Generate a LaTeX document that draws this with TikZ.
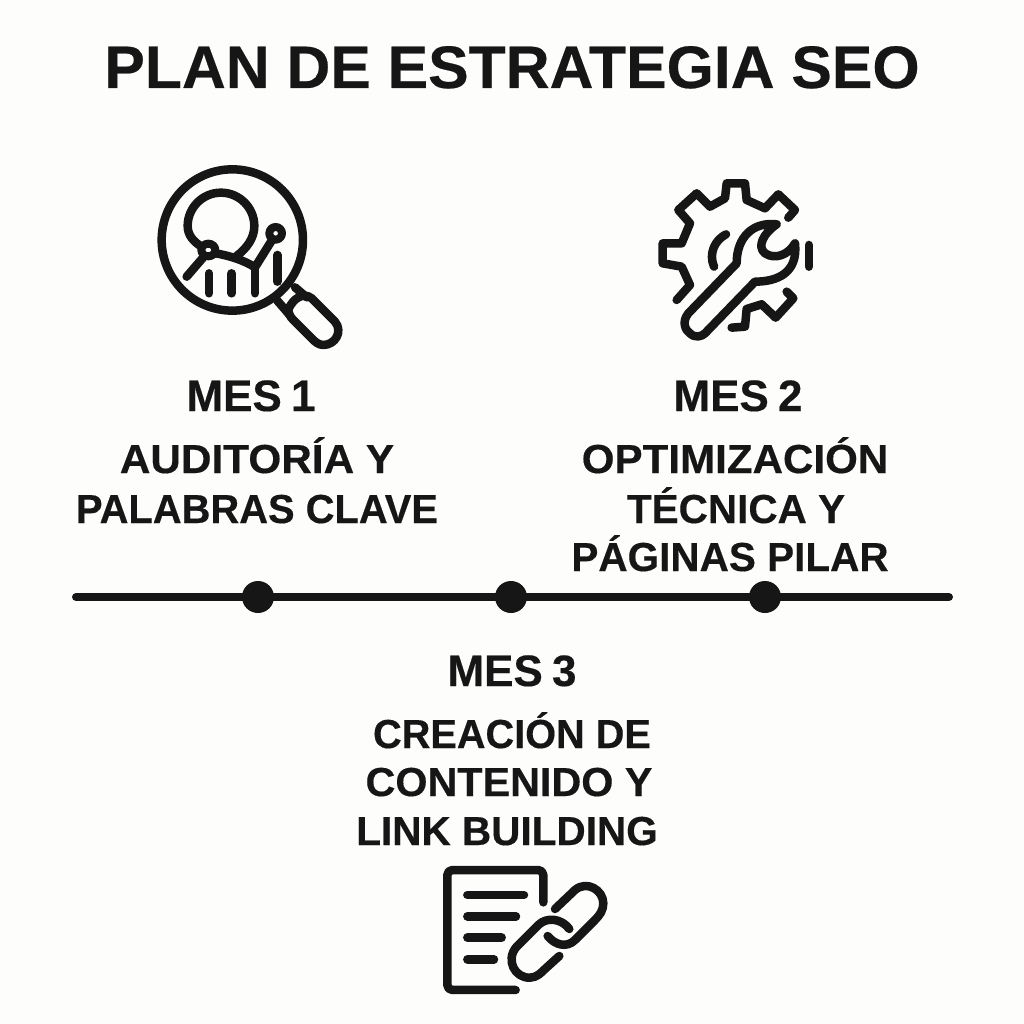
\documentclass[tikz,border=0pt]{standalone}
\usepackage{fontspec}
\setmainfont{Liberation Sans}[BoldFont={Liberation Sans Bold},BoldFeatures={FakeBold=0.35}]
\definecolor{ink}{HTML}{161616}
\definecolor{paper}{HTML}{FDFDFB}
\tikzset{
  ttl/.style={font=\fontsize{60}{62}\selectfont\bfseries,text=ink,inner sep=0pt,anchor=base},
  mes/.style={font=\fontsize{44}{46}\selectfont\bfseries,text=ink,inner sep=0pt,anchor=base},
  sub/.style={font=\fontsize{40.5}{42}\selectfont\bfseries,text=ink,inner sep=0pt,anchor=base},
  dot/.style={circle,fill=ink,minimum size=32pt,inner sep=0pt},
  icon/.style={draw=ink,line width=8.5pt,line cap=round,line join=round},
  iconthin/.style={draw=ink,line width=8pt,line cap=round,line join=round},
}
\begin{document}
\begin{tikzpicture}[x=1pt,y=-1pt]
\useasboundingbox (0,0) rectangle (1024,1024);
\fill[paper] (0,0) rectangle (1024,1024);
\node[ttl] (title) at (512,88) {\scalebox{1.012}[1]{PLAN DE ESTRATEGIA SEO}};

% magnifier
\begin{scope}[shift={(140,150)},x=0.3333pt,y=-0.3333pt]
\draw[icon] (277,270) circle[radius=212];
\draw[icon] (185,290) .. controls (160,275) and (143,255) .. (143,228) .. controls (143,173) and (188,128) .. (243,128) .. controls (298,128) and (343,173) .. (343,228) .. controls (343,265) and (320,295) .. (290,318);
\draw[icon] (140,380) -- (190,322);
\draw[icon] (228,310) .. controls (270,318) and (310,330) .. (345,352) -- (395,272);
\draw[iconthin] (205,300) ellipse[x radius=21,y radius=19];
\draw[iconthin] (407,250) circle[radius=19];
\draw[icon] (207,370) -- (207,430);
\draw[icon] (275,370) -- (275,430);
\draw[icon] (345,352) -- (345,430);
\draw[icon] (412,315) -- (412,395);
\draw[icon] (465,412) -- (500,442);
\draw[icon] (412,452) -- (450,496);
\draw[icon] (445,478) .. controls (460,445) and (490,425) .. (515,445) -- (585,515) .. controls (610,545) and (585,585) .. (550,585) .. controls (535,585) and (525,575) .. (515,565) -- (460,510) .. controls (450,500) and (445,490) .. (445,478);
\end{scope}

% gear and wrench
\begin{scope}[shift={(640,165)},x=0.3333pt,y=-0.3333pt]
\draw[icon] (445,158) -- (465,135) -- (415,88) -- (375,130) -- (320,105) -- (315,55) -- (260,55) -- (255,100) -- (210,125) -- (170,85) -- (115,135) -- (150,175) -- (125,235) -- (68,235) -- (68,295) -- (125,305) -- (150,360) -- (110,405);
\draw[icon] (275,488) -- (315,485) -- (320,432) -- (365,418) -- (407,458) -- (460,400) -- (440,380);
\draw[icon] (258,208) .. controls (225,225) and (205,265) .. (222,305);
\draw[icon] (507,240) -- (507,305);
\draw[icon] (410,178) .. controls (340,170) and (290,215) .. (290,295) -- (145,445) .. controls (125,470) and (135,495) .. (150,505) .. controls (165,520) and (185,515) .. (195,505) -- (345,350) .. controls (410,350) and (475,325) .. (465,235) .. controls (445,270) and (405,285) .. (375,265) .. controls (350,245) and (370,205) .. (410,178) -- cycle;
\end{scope}

% document and chain
\begin{scope}[shift={(430,855)},x=0.3333pt,y=-0.3333pt]
\draw[icon,rounded corners=5pt] (340,142) -- (340,45) -- (52,45) -- (52,405) -- (257,405);
\draw[icon] (112,120) -- (282,120);
\draw[icon] (112,184) -- (258,184);
\draw[icon] (112,248) -- (215,248);
\draw[icon] (112,313) -- (192,313);
\draw[icon] (375,162) -- (435,105) .. controls (470,75) and (520,105) .. (520,145) .. controls (520,165) and (510,180) .. (495,195) -- (435,255) .. controls (410,280) and (375,270) .. (353,243);
\draw[icon] (418,222) .. controls (395,190) and (350,185) .. (325,210) -- (260,275) .. controls (225,315) and (255,370) .. (300,368) .. controls (320,368) and (335,352) .. (345,342) -- (388,303);
\end{scope}

% labels
\node[mes] (m1) at (251,411) {MES\hspace{-3pt} 1};
\node[sub] (m1a) at (257,473) {\scalebox{1.045}[1]{AUDITORÍA Y}};
\node[sub] (m1b) at (257,523) {\scalebox{0.985}[1]{PALABRAS CLAVE}};
\node[mes] (m2) at (738,411) {MES\hspace{-3pt} 2};
\node[sub] (m2a) at (735,473) {\scalebox{1.04}[1]{OPTIMIZACIÓN}};
\node[sub] (m2b) at (736,523) {TÉCNICA Y};
\node[sub] (m2c) at (730,571) {PÁGINAS PILAR};
\node[mes] (m3) at (512,686) {MES\hspace{-3pt} 3};
\node[sub] (m3a) at (512,748) {\scalebox{0.98}[1]{CREACIÓN DE}};
\node[sub] (m3b) at (509,796) {\scalebox{1.02}[1]{CONTENIDO Y}};
\node[sub] (m3c) at (507,845) {LINK BUILDING};

% timeline
\coordinate (tl) at (76,597);
\coordinate (tr) at (949,597);
\draw[ink,line width=8pt,line cap=round] (tl) -- (tr);
\node[dot] (d1) at (258,597) {};
\node[dot] (d2) at (511,597) {};
\node[dot] (d3) at (765,597) {};
\end{tikzpicture}
\end{document}
